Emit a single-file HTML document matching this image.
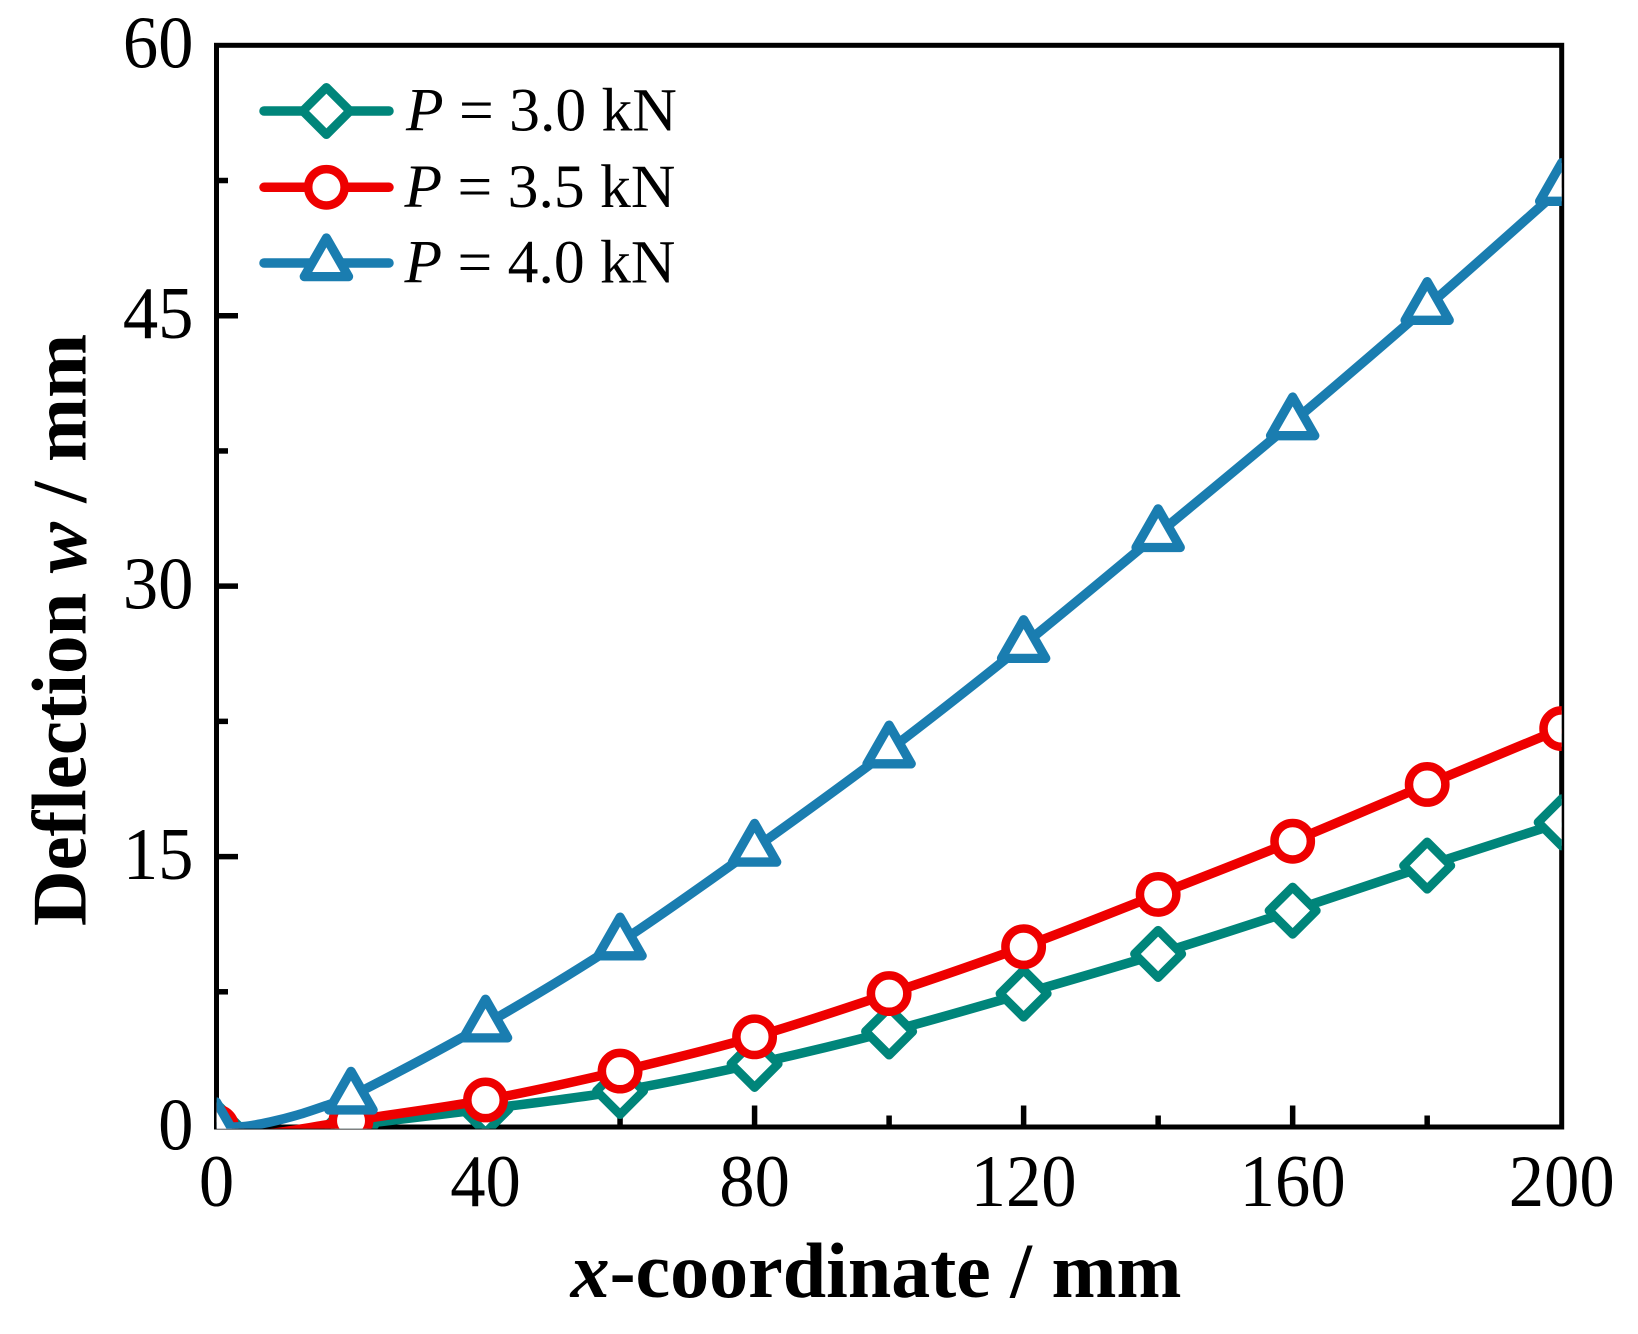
<!DOCTYPE html>
<html lang="en">
<head>
<meta charset="utf-8">
<title>Deflection vs x-coordinate</title>
<style>
html,body{margin:0;padding:0;background:#fff;}
svg{display:block;font-family:"Liberation Serif",serif;}
</style>
</head>
<body>
<svg id="chart" xmlns="http://www.w3.org/2000/svg" width="1638" height="1334" viewBox="0 0 1638 1334">
  <defs>
    <clipPath id="plot-clip"><rect x="216.7" y="40" width="1345" height="1088.6"></rect></clipPath>
  </defs>
  <rect x="0" y="0" width="1638" height="1334" fill="#ffffff"></rect>
  <g id="axes"></g>
  <g id="series" clip-path="url(#plot-clip)"></g>
  <g id="legend"></g>
  <text x="876" y="1297" text-anchor="middle" font-size="78" font-weight="bold" fill="#000"><tspan font-style="italic">x</tspan>-coordinate / mm</text>
  <text transform="translate(85.5,630) rotate(-90)" text-anchor="middle" font-size="77" font-weight="bold" fill="#000">Deflection <tspan font-style="italic">w</tspan> / mm</text>
</svg>
<script>
const xSamples = [0, 4, 8, 12, 16, 20, 40, 60, 80, 100, 120, 140, 160, 180, 200];
const markerXs = [0, 20, 40, 60, 80, 100, 120, 140, 160, 180, 200];
const series30 = [0, -0.4, -0.5, -0.4, -0.15, 0.1, 1.0, 2.0, 3.5, 5.3, 7.4, 9.6, 12.0, 14.5, 16.9];
const series35 = [0, -0.35, -0.35, -0.15, 0.1, 0.35, 1.5, 3.1, 5.0, 7.4, 10.0, 12.9, 15.85, 19.0, 22.1];
const series40 = [0, 0.02, 0.28, 0.66, 1.15, 1.7, 5.7, 10.25, 15.45, 20.9, 26.75, 32.9, 39.1, 45.5, 52.1];
const seriesNames = ["3.0", "3.5", "4.0"];
const xTicks = [0, 20, 40, 60, 80, 100, 120, 140, 160, 180, 200];
const xTickLabels = ["0", "", "40", "", "80", "", "120", "", "160", "", "200"];
const yTicks = [0, 7.5, 15, 22.5, 30, 37.5, 45, 52.5, 60];
const yTickLabels = ["0", "", "15", "", "30", "", "45", "", "60"];

const NS = "http://www.w3.org/2000/svg";
const plot = { left: 216.5, right: 1561.7, top: 45.3, bottom: 1127 };
const xMax = 200, yMax = 60;
function sx(v) { return plot.left + (v / xMax) * (plot.right - plot.left); }
function sy(v) { return plot.bottom - (v / yMax) * (plot.bottom - plot.top); }

function mk(tag, attrs, parent) {
  const el = document.createElementNS(NS, tag);
  for (const k in attrs) el.setAttribute(k, attrs[k]);
  parent.appendChild(el);
  return el;
}

const axes = document.getElementById("axes");
const frame = mk("rect", { x: plot.left, y: plot.top, width: plot.right - plot.left, height: plot.bottom - plot.top, fill: "none", stroke: "#000", "stroke-width": 5 }, axes);



xTicks.forEach((t, i) => {
  const major = xTickLabels[i] !== "";
  const x = sx(t);
  if (t > 0 && t < xMax) {
    const tick = mk("line", { x1: x, x2: x, y1: plot.bottom, y2: plot.bottom - (major ? 21.5 : 11.5), stroke: "#000", "stroke-width": 5.5 }, axes);
    
    
  }
  if (major) {
    const label = mk("text", { transform: "translate(" + x + ",1206) scale(0.955,1)", "text-anchor": "middle", "font-size": 74, fill: "#000" }, axes);
    label.textContent = xTickLabels[i];
    
    
  }
});

yTicks.forEach((t, i) => {
  const major = yTickLabels[i] !== "";
  const y = sy(t);
  if (t > 0 && t < yMax) {
    const tick = mk("line", { x1: plot.left, x2: plot.left + (major ? 21.5 : 11.5), y1: y, y2: y, stroke: "#000", "stroke-width": 5.5 }, axes);
    
    
  }
  if (major) {
    const label = mk("text", { transform: "translate(193.5," + (y + 22.3) + ") scale(0.955,1)", "text-anchor": "end", "font-size": 74, fill: "#000" }, axes);
    label.textContent = yTickLabels[i];
    
    
  }
});

function smoothPath(xs, ys) {
  const p = xs.map((x, i) => [sx(x), sy(ys[i])]);
  let d = "M" + p[0][0].toFixed(2) + " " + p[0][1].toFixed(2);
  for (let i = 0; i < p.length - 1; i++) {
    const a = p[Math.max(i - 1, 0)], b = p[i], c = p[i + 1], e = p[Math.min(i + 2, p.length - 1)];
    const t1 = Math.min(1, (c[0] - b[0]) / Math.max(c[0] - a[0], 1)) / 1.5;
    const t2 = Math.min(1, (c[0] - b[0]) / Math.max(e[0] - b[0], 1)) / 1.5;
    const c1 = [b[0] + (c[0] - a[0]) * t1 * 0.5, b[1] + (c[1] - a[1]) * t1 * 0.5];
    const c2 = [c[0] - (e[0] - b[0]) * t2 * 0.5, c[1] - (e[1] - b[1]) * t2 * 0.5];
    d += "C" + c1[0].toFixed(2) + " " + c1[1].toFixed(2) + " " + c2[0].toFixed(2) + " " + c2[1].toFixed(2) + " " + c[0].toFixed(2) + " " + c[1].toFixed(2);
  }
  return d;
}

function drawMarker(kind, cx, cy, color, parent) {
  const base = { fill: "#ffffff", stroke: color, "stroke-linejoin": "round" };
  let m;
  if (kind === "diamond") {
    m = mk("path", Object.assign({ d: "M" + cx + " " + (cy - 23.6) + "L" + (cx + 23.6) + " " + cy + "L" + cx + " " + (cy + 23.6) + "L" + (cx - 23.6) + " " + cy + "Z", "stroke-width": 8.9 }, base), parent);
  } else if (kind === "circle") {
    m = mk("circle", Object.assign({ cx: cx, cy: cy, r: 18.2, "stroke-width": 8.5 }, base), parent);
  } else {
    m = mk("path", Object.assign({ d: "M" + cx + " " + (cy - 25) + "L" + (cx + 22.1) + " " + (cy + 13.6) + "L" + (cx - 22.1) + " " + (cy + 13.6) + "Z", "stroke-width": 9.3 }, base), parent);
  }
  return m;
}

const seriesDefs = [
  { values: series30, color: "#00857a", kind: "diamond", label: seriesNames[0] },
  { values: series35, color: "#ee0000", kind: "circle", label: seriesNames[1] },
  { values: series40, color: "#1a7db0", kind: "triangle", label: seriesNames[2] }
];

const seriesRoot = document.getElementById("series");
seriesDefs.forEach((s) => {
  const g = mk("g", {}, seriesRoot);
  
  
  const line = mk("path", { d: smoothPath(xSamples, s.values), fill: "none", stroke: s.color, "stroke-width": 9.5, "stroke-linejoin": "round" }, g);
  
  
  markerXs.forEach((mx) => {
    const idx = xSamples.indexOf(mx);
    const marker = drawMarker(s.kind, sx(mx), sy(s.values[idx]), s.color, g);
    
    
  });
});

const legendRoot = document.getElementById("legend");
const legendRows = [111, 187.3, 263];
const legendTextX = [406, 404.5, 404.5];
seriesDefs.forEach((s, i) => {
  const y = legendRows[i];
  const g = mk("g", {}, legendRoot);
  
  
  const line = mk("line", { x1: 264, x2: 389, y1: y, y2: y, stroke: s.color, "stroke-width": 9.5, "stroke-linecap": "round" }, g);
  
  
  const marker = drawMarker(s.kind, 326.4, y, s.color, g);
  
  
  const text = mk("text", { x: legendTextX[i], y: y + 19.7, "font-size": 61.6, fill: "#000", "xml:space": "preserve" }, g);
  
  
  const italic = mk("tspan", { "font-style": "italic" }, text);
  italic.textContent = "P";
  text.appendChild(document.createTextNode(" = " + s.label + " kN"));
});
</script>
</body>
</html>
